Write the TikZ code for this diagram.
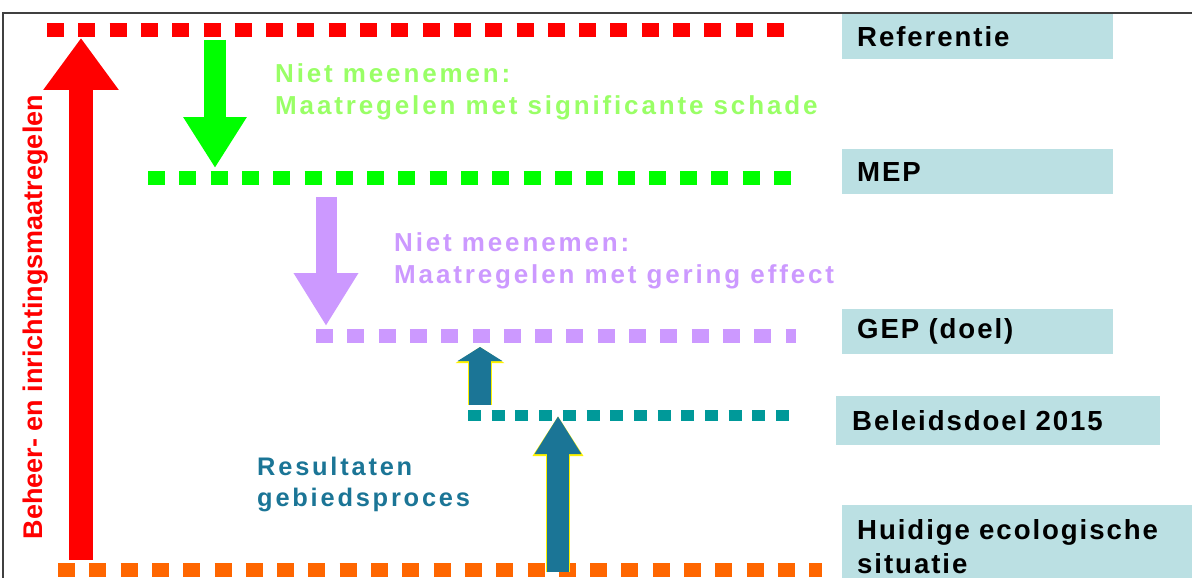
\documentclass[tikz,border=0pt]{standalone}
\usepackage{fontspec}
\setmainfont{Liberation Sans}
\newfontfamily\wideface[LetterSpace=11]{Liberation Sans}
\newfontfamily\boxface[LetterSpace=7]{Liberation Sans}
\usetikzlibrary{arrows.meta}

\definecolor{refred}{RGB}{255,0,0}
\definecolor{mepgreen}{RGB}{0,255,0}
\definecolor{notegreen}{RGB}{153,255,102}
\definecolor{geppurple}{RGB}{204,153,255}
\definecolor{doelteal}{RGB}{0,153,153}
\definecolor{procblue}{RGB}{27,117,150}
\definecolor{nuorange}{RGB}{255,102,0}
\definecolor{boxblue}{RGB}{187,224,227}
\definecolor{framegray}{RGB}{64,64,64}

\begin{document}
\begin{tikzpicture}[x=1pt, y=-1pt,
	level/.style={line width=14pt, dash pattern=on 17pt off 14.3pt},
	smalllevel/.style={line width=11pt, dash pattern=on 13pt off 10.7pt},
	levelbox/.style={fill=boxblue, anchor=north west, minimum height=45pt, inner xsep=15pt, align=left, font=\boxface\fontsize{27.6}{34}\selectfont\bfseries},
	note/.style={anchor=north west, inner sep=0pt, align=left, font=\wideface\fontsize{26}{32}\selectfont\bfseries},
	outlined/.style={preaction={draw=yellow, line width=24pt, -{Triangle[width=48pt,length=#1]}}}]
			\useasboundingbox (0,0) rectangle (1192,578);
			\draw[framegray, line width=1.5pt] (3,578) |- (1192,13);
			
			% levels
			\coordinate (refL) at (47,30);
			\coordinate (refR) at (792,30);
			\coordinate (mepL) at (148,178);
			\coordinate (mepR) at (796,178);
			\coordinate (gepL) at (316,336);
			\coordinate (gepR) at (796,336);
			\coordinate (doelL) at (468,415);
			\coordinate (doelR) at (792,415);
			\coordinate (nuL) at (58,570);
			\coordinate (nuR) at (822,570);
			
			\draw[level, refred] (refL) -- (refR);
			\draw[level, mepgreen] (mepL) -- (mepR);
			\draw[level, geppurple] (gepL) -- (gepR);
			\draw[smalllevel, doelteal] (doelL) -- (doelR);
			\draw[level, nuorange] (nuL) -- (nuR);
			
			\node[levelbox, text width=241pt] (referentie) at (842,14) {Referentie};
			\node[levelbox, text width=241pt] (mep) at (842,149) {MEP};
			\node[levelbox, text width=241pt] (gep) at (842,309) {GEP (doel)};
			\node[levelbox, inner xsep=16pt, text width=292pt, minimum height=49pt] (beleidsdoel) at (836,396) {Beleidsdoel 2015};
			\node[levelbox, text width=330pt, minimum height=82pt] (huidig) at (842,505) {Huidige ecologische\\situatie};
			
			% arrows
			\coordinate (redS) at (81,560);
			\coordinate (redE) at (81,38);
			\coordinate (greenS) at (215,40);
			\coordinate (greenE) at (215,168);
			\coordinate (purpleS) at (326,197);
			\coordinate (purpleE) at (326,326);
			\coordinate (stepS) at (480,405);
			\coordinate (stepE) at (480,347);
			\coordinate (procS) at (558,572);
			\coordinate (procE) at (558,416);
			
			\draw[refred, line width=24pt, -{Triangle[width=72pt,length=52pt]}] (redS) -- (redE);
			\draw[mepgreen, line width=22pt, -{Triangle[width=60pt,length=51pt]}] (greenS) -- (greenE);
			\draw[geppurple, line width=21pt, -{Triangle[width=61pt,length=53pt]}] (purpleS) -- (purpleE);
			\draw[outlined=16pt, procblue, line width=22pt, -{Triangle[width=44pt,length=14pt]}] (stepS) -- (stepE);
			\draw[outlined=40pt, procblue, line width=22pt, -{Triangle[width=44pt,length=38pt]}] (procS) -- (procE);
			
			% texts
			\node[rotate=90, anchor=base, text=refred, font=\fontsize{27}{32}\selectfont\bfseries] (beheer) at (42,317) {Beheer- en inrichtingsmaatregelen};
			\node[note, text=notegreen] (schade) at (275,63) {Niet meenemen:\\Maatregelen met significante schade};
			\node[note, text=geppurple] (effect) at (394,232) {Niet meenemen:\\Maatregelen met gering effect};
			\node[note, text=procblue, font=\wideface\fontsize{25.4}{31}\selectfont\bfseries] (resultaten) at (257,457) {Resultaten\\gebiedsproces};
			\end{tikzpicture}
\end{document}
